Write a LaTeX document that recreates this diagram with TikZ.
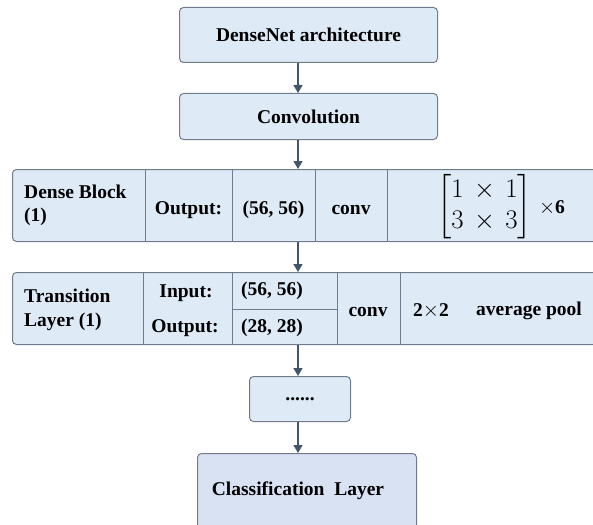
\documentclass[tikz,border=0pt]{standalone}
\usepackage{amsmath}
\usepackage{fontspec}
\setmainfont{Liberation Serif}
\usetikzlibrary{arrows.meta}
\definecolor{boxfill}{RGB}{222,234,246}
\definecolor{clsfill}{RGB}{217,226,243}
\definecolor{edgec}{RGB}{112,124,142}
\definecolor{arrowc}{RGB}{68,84,106}
\begin{document}
\begin{tikzpicture}[x=1pt,y=-1pt,
  box/.style={draw=edgec,fill=boxfill,rounded corners=4pt,line width=1pt,inner sep=0pt,anchor=north west},
  lbl/.style={font=\fontsize{19.5}{23}\selectfont\bfseries,inner sep=0pt},
  divider/.style={draw=edgec,line width=0.9pt},
  conn/.style={draw=arrowc,line width=1.3pt,-{Triangle[width=9pt,length=8pt]}}]
\useasboundingbox (0,0) rectangle (593,524);
\clip (0,0) rectangle (593,524);
\coordinate (axis) at (298,0);
% boxes
\node[box,minimum width=258pt,minimum height=55pt,lbl] (arch) at (179,7) {DenseNet architecture};
\node[box,minimum width=258pt,minimum height=46pt,lbl] (conv) at (179,93) {Convolution};
\node[box,minimum width=650pt,minimum height=72pt] (dense) at (12,169) {};
\node[box,minimum width=650pt,minimum height=72pt] (trans) at (12,272) {};
\node[box,minimum width=101pt,minimum height=45pt,lbl] (dots) at (249,376) {......};
\node[box,fill=clsfill,minimum width=219pt,minimum height=90pt] (cls) at (197,453) {};
\node[lbl] (clstext) at (298,491) {Classification\ \ Layer};
% dense block dividers
\foreach \x in {145,232,315,387} \draw[divider] (\x,169) -- (\x,241);
\node[lbl,anchor=west,align=left] (dbname) at (24,205) {Dense Block\\(1)};
\node[lbl] (dbout) at (188.5,210) {Output:};
\node[lbl] (dbsize) at (273.5,210) {(56, 56)};
\node[lbl] (dbconv) at (351,210) {conv};
\node[inner sep=0pt,font=\fontsize{24}{29}\selectfont] (dbmat) at (484.5,207) {\scalebox{1.08}{$\begin{bmatrix}1\,\times\,1\\3\,\times\,3\end{bmatrix}$}};
\node[lbl] (dbrep) at (552,208) {$\times$6};
% transition dividers
\foreach \x in {143,232,337,400} \draw[divider] (\x,272) -- (\x,344);
\draw[divider] (232,309) -- (337,309);
\node[lbl,anchor=west,align=left] (trname) at (24,310) {Transition\\[1pt]Layer (1)};
\node[lbl] (trin) at (186,293) {Input:};
\node[lbl] (trout) at (185,328) {Output:};
\node[lbl,anchor=west] (trin2) at (241,291) {(56, 56)};
\node[lbl,anchor=west] (trout2) at (241,328) {(28, 28)};
\node[lbl] (trconv) at (368,312) {conv};
\node[lbl] (trpool) at (431,311) {2$\times$2};
\node[lbl] (travg) at (529,311) {average pool};
% connectors
\draw[conn] (arch.south -| axis) -- (conv.north -| axis);
\draw[conn] (conv.south -| axis) -- (dense.north -| axis);
\draw[conn] (dense.south -| axis) -- (trans.north -| axis);
\draw[conn] (trans.south -| axis) -- (dots.north -| axis);
\draw[conn] (dots.south -| axis) -- (cls.north -| axis);
\end{tikzpicture}
\end{document}
